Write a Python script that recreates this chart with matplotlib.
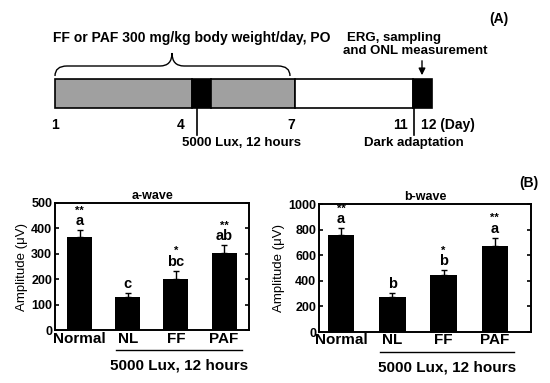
import numpy as np
import matplotlib
matplotlib.use("Agg")
import matplotlib.pyplot as plt
from matplotlib.path import Path
from matplotlib.patches import PathPatch, Rectangle

plt.rcParams['font.family'] = ['Liberation Sans', 'DejaVu Sans']
plt.rcParams['font.weight'] = 'bold'

# bar chart data
groups = ["Normal", "NL", "FF", "PAF"]
a_mean = [367, 129, 203, 302]
a_err = [26, 16, 30, 32]
a_letters = ["a", "c", "bc", "ab"]
a_stars = ["**", "", "*", "**"]

b_mean = [762, 275, 447, 670]
b_err = [52, 27, 37, 66]
b_letters = ["a", "b", "b", "a"]
b_stars = ["**", "", "*", "**"]

# timeline schematic (A), drawn in figure pixel units
seg_edges = [55, 192, 211, 295, 413, 432]
seg_colors = ["#a0a0a0", "black", "#a0a0a0", "white", "black"]
day_labels = ["1", "4", "7", "11", "12 (Day)"]
day_pos = [55, 181, 291, 408, 421]
day_align = ["center", "center", "center", "right", "left"]

fig = plt.figure(figsize=(5.5, 3.83), dpi=100)

# ---- panel A ----
ax0 = fig.add_axes([0, 0, 1, 1])
ax0.set_xlim(0, 550)
ax0.set_ylim(383, 0)
ax0.axis('off')

for i in range(len(seg_colors)):
    ax0.add_patch(Rectangle((seg_edges[i], 79), seg_edges[i+1] - seg_edges[i], 29,
                            facecolor=seg_colors[i], edgecolor='black', lw=1.2))

for lab, x, ha in zip(day_labels, day_pos, day_align):
    ax0.text(x, 125, lab, ha=ha, va='center', fontsize=10)

# curly brace over days 1-7
verts = [(55, 76), (55, 66), (67, 66), (160, 66), (172, 66), (172, 53),
         (172, 66), (184, 66), (278, 66), (290, 66), (290, 76)]
codes = [Path.MOVETO, Path.CURVE3, Path.CURVE3, Path.LINETO, Path.CURVE3, Path.CURVE3,
         Path.CURVE3, Path.CURVE3, Path.LINETO, Path.CURVE3, Path.CURVE3]
ax0.add_patch(PathPatch(Path(verts, codes), facecolor='none', edgecolor='black', lw=1.0))
ax0.text(192, 38, "FF or PAF 300 mg/kg body weight/day, PO", ha='center', va='center', fontsize=10)

ax0.text(347, 38, "ERG, sampling", ha='left', va='center', fontsize=9.5)
ax0.text(343, 51, "and ONL measurement", ha='left', va='center', fontsize=9.5)
ax0.annotate('', xy=(422, 78), xytext=(422, 58),
             arrowprops=dict(arrowstyle='-|>', color='black', lw=1.0, mutation_scale=10))

ax0.plot([197, 197], [108, 135], color='black', lw=1.2)
ax0.plot([414, 414], [108, 135], color='black', lw=1.2)
ax0.text(242, 143, "5000 Lux, 12 hours", ha='center', va='center', fontsize=9.5)
ax0.text(414, 143, "Dark adaptation", ha='center', va='center', fontsize=9.5)

ax0.text(508, 19, "(A)", ha='right', va='center', fontsize=10)
ax0.text(538, 183, "(B)", ha='right', va='center', fontsize=10)

# ---- panel B ----
def bar_panel(rect, means, errs, letters, stars, ymax, step, title, xlim):
    ax = fig.add_axes(rect)
    x = np.arange(len(groups))
    ax.bar(x, means, width=0.52, color='black', zorder=2)
    ax.errorbar(x, means, yerr=[np.zeros(len(errs)), errs], fmt='none',
                ecolor='black', elinewidth=1.0, capsize=2.5, capthick=1.0, zorder=3)
    for i in range(len(groups)):
        top = means[i] + errs[i]
        ax.annotate(letters[i], (x[i], top), xytext=(0, 1.5), textcoords='offset points',
                    ha='center', va='bottom', fontsize=10.5)
        if stars[i]:
            ax.annotate(stars[i], (x[i], top), xytext=(0, 10.5), textcoords='offset points',
                        ha='center', va='bottom', fontsize=8)
    ax.set_xlim(*xlim)
    ax.set_ylim(0, ymax)
    ax.set_yticks(np.arange(0, ymax + 1, step))
    ax.set_xticks(x)
    ax.set_xticklabels(groups, fontsize=11)
    ax.tick_params(axis='x', length=0, pad=1)
    ax.tick_params(axis='y', direction='in', right=True, length=3, width=1.2,
                   labelsize=9, pad=2)
    for s in ax.spines.values():
        s.set_linewidth(1.4)
    ax.set_ylabel("Amplitude (\u03bcV)", fontsize=9.5, fontweight='normal', labelpad=2)
    ax.set_title(title, fontsize=9, fontweight='bold', pad=3)
    tr = ax.get_xaxis_transform()
    ax.plot([x[1] - 0.25, x[3] + 0.38], [-0.157, -0.157], color='black', lw=1.0,
            transform=tr, clip_on=False)
    ax.text((x[1] - 0.25 + x[3] + 0.38) / 2, -0.28, "5000 Lux, 12 hours", transform=tr,
            ha='center', va='center', fontsize=11)
    return ax

bar_panel([0.1, 0.138, 0.353, 0.332], a_mean, a_err, a_letters, a_stars,
          500, 100, "a-wave", (-0.51, 3.52))
bar_panel([0.58, 0.133, 0.385, 0.334], b_mean, b_err, b_letters, b_stars,
          1000, 200, "b-wave", (-0.43, 3.7))

fig.savefig("out.png", dpi=100)
